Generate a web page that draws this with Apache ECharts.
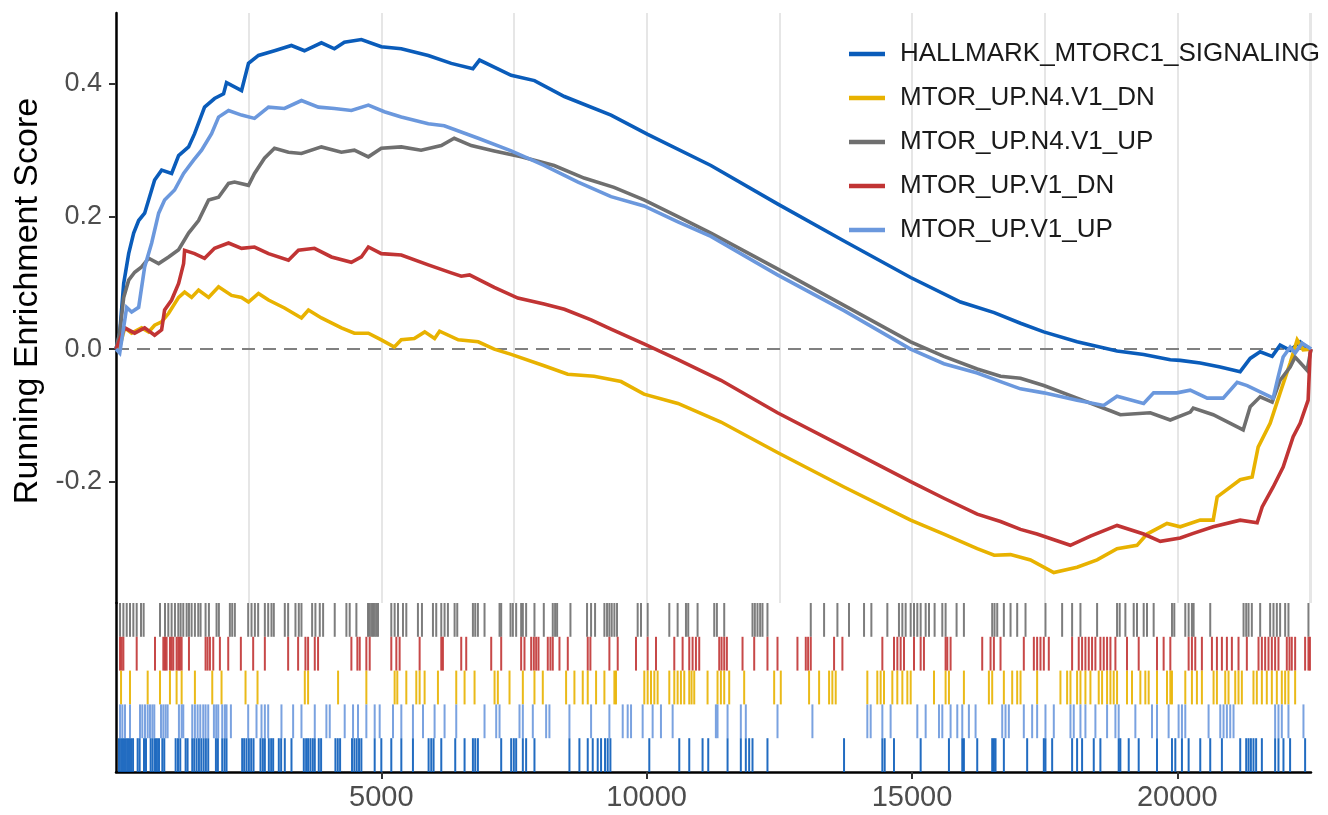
<!DOCTYPE html>
<html><head><meta charset="utf-8">
<script src="https://cdn.jsdelivr.net/npm/echarts@6/dist/echarts.min.js"></script>
<style>html,body{margin:0;padding:0;background:#fff}#c{width:1328px;height:815px}</style>
</head><body><div id="c"></div>
<script>
const FONT = '"Liberation Sans", Arial, Helvetica, sans-serif';
const nGenes = 22520;
const setNames = ['HALLMARK_MTORC1_SIGNALING', 'MTOR_UP.N4.V1_DN', 'MTOR_UP.N4.V1_UP', 'MTOR_UP.V1_DN', 'MTOR_UP.V1_UP'];
const setColors = ['#0a5cba', '#e8b200', '#6f6f6f', '#c13434', '#6b98dd'];
const yTicks = [-0.2, 0, 0.2, 0.4];
const xTicks = [5000, 10000, 15000, 20000];

// running enrichment score curves: [rank, score]
const esHallmark = [[0,0],[70,0.024],[145,0.099],[239,0.144],[333,0.175],[427,0.194],[540,0.205],[728,0.255],[860,0.27],[1048,0.265],[1180,0.292],[1368,0.305],[1481,0.325],[1669,0.365],[1857,0.378],[2027,0.385],[2083,0.402],[2366,0.39],[2497,0.431],[2685,0.443],[2987,0.45],[3306,0.458],[3551,0.45],[3871,0.462],[4116,0.453],[4304,0.463],[4624,0.467],[5000,0.456],[5376,0.453],[5885,0.443],[6318,0.431],[6726,0.423],[6851,0.436],[7447,0.413],[7886,0.405],[8450,0.381],[9329,0.353],[10020,0.324],[11211,0.277],[12466,0.219],[13720,0.163],[14975,0.108],[15916,0.071],[16549,0.055],[17045,0.039],[17484,0.026],[18112,0.011],[18865,-0.003],[19366,-0.008],[19868,-0.016],[20056,-0.017],[20432,-0.021],[20809,-0.027],[21185,-0.034],[21374,-0.014],[21562,-0.004],[21788,-0.011],[21938,0.006],[22127,-0.002],[22315,0.011],[22466,0.001],[22520,0]];
const esN4Dn = [[0,0],[70,0.003],[164,0.032],[295,0.024],[483,0.032],[615,0.026],[728,0.036],[860,0.041],[992,0.054],[1180,0.078],[1293,0.086],[1425,0.078],[1556,0.089],[1745,0.078],[1933,0.094],[2178,0.081],[2366,0.078],[2497,0.071],[2685,0.084],[2874,0.074],[3175,0.062],[3495,0.047],[3627,0.059],[3871,0.047],[4248,0.032],[4492,0.024],[4756,0.024],[5000,0.014],[5245,0.003],[5376,0.014],[5621,0.016],[5818,0.026],[6004,0.016],[6098,0.027],[6450,0.014],[6826,0.011],[7128,0.0],[7447,-0.008],[8068,-0.025],[8513,-0.038],[9010,-0.041],[9518,-0.049],[9950,-0.068],[10590,-0.082],[11400,-0.11],[12466,-0.156],[13720,-0.208],[14975,-0.258],[15602,-0.279],[16230,-0.301],[16549,-0.311],[16857,-0.31],[17233,-0.318],[17672,-0.337],[18112,-0.329],[18489,-0.318],[18865,-0.301],[19241,-0.296],[19430,-0.279],[19806,-0.263],[20056,-0.268],[20432,-0.258],[20677,-0.258],[20752,-0.223],[21185,-0.197],[21411,-0.193],[21524,-0.148],[21750,-0.112],[21938,-0.066],[22127,-0.021],[22259,0.014],[22372,-0.001],[22520,0]];
const esN4Up = [[0,0],[70,0.024],[145,0.078],[239,0.104],[352,0.116],[483,0.124],[615,0.137],[804,0.129],[992,0.139],[1180,0.15],[1368,0.175],[1556,0.194],[1745,0.225],[1933,0.229],[2121,0.25],[2234,0.252],[2497,0.247],[2610,0.265],[2798,0.288],[2987,0.303],[3250,0.297],[3495,0.295],[3871,0.305],[4248,0.297],[4492,0.30],[4756,0.29],[5000,0.303],[5376,0.305],[5750,0.30],[6130,0.307],[6374,0.318],[6695,0.307],[7128,0.299],[7636,0.29],[8257,0.277],[8821,0.258],[9385,0.244],[9950,0.225],[10590,0.2],[11211,0.175],[12466,0.121],[13720,0.066],[14975,0.011],[15602,-0.011],[16230,-0.03],[16669,-0.041],[17045,-0.044],[17484,-0.055],[18112,-0.074],[18739,-0.093],[18927,-0.099],[19491,-0.096],[19868,-0.107],[20245,-0.095],[20301,-0.089],[20677,-0.099],[21242,-0.122],[21374,-0.087],[21562,-0.072],[21788,-0.08],[21938,-0.047],[22127,-0.027],[22221,-0.012],[22447,-0.032],[22520,0]];
const esV1Dn = [[0,0],[70,0.014],[164,0.032],[352,0.024],[540,0.032],[728,0.021],[860,0.029],[916,0.059],[1048,0.074],[1180,0.099],[1274,0.129],[1293,0.149],[1481,0.144],[1669,0.137],[1857,0.152],[2121,0.16],[2366,0.152],[2610,0.154],[2874,0.144],[3250,0.134],[3438,0.149],[3740,0.152],[4060,0.139],[4436,0.131],[4624,0.139],[4756,0.154],[5000,0.144],[5376,0.142],[5885,0.127],[6318,0.115],[6506,0.11],[6663,0.112],[7128,0.093],[7573,0.077],[8068,0.068],[8450,0.06],[8953,0.044],[9329,0.03],[9950,0.008],[10590,-0.016],[11400,-0.047],[12466,-0.096],[13720,-0.148],[14975,-0.2],[15602,-0.225],[16230,-0.249],[16669,-0.26],[17045,-0.272],[17357,-0.279],[17984,-0.296],[18363,-0.282],[18865,-0.266],[19366,-0.279],[19680,-0.29],[20056,-0.285],[20301,-0.278],[20677,-0.268],[21185,-0.258],[21505,-0.262],[21600,-0.238],[21807,-0.208],[21995,-0.178],[22184,-0.132],[22315,-0.112],[22466,-0.077],[22503,-0.006],[22520,0]];
const esV1Up = [[0,0],[70,-0.006],[145,0.033],[201,0.063],[295,0.056],[427,0.063],[540,0.124],[672,0.16],[804,0.205],[916,0.225],[1104,0.24],[1274,0.265],[1462,0.285],[1613,0.30],[1801,0.325],[1933,0.35],[2121,0.36],[2366,0.353],[2610,0.348],[2874,0.365],[3175,0.363],[3495,0.375],[3815,0.365],[4116,0.363],[4436,0.36],[4756,0.368],[5057,0.358],[5376,0.35],[5885,0.34],[6186,0.337],[6826,0.318],[7447,0.299],[8068,0.277],[8708,0.252],[9329,0.230],[9950,0.216],[10590,0.192],[11211,0.170],[12466,0.112],[13720,0.058],[14975,0.0],[15602,-0.022],[16230,-0.036],[16669,-0.049],[17045,-0.06],[17484,-0.066],[18112,-0.077],[18613,-0.085],[18865,-0.071],[19366,-0.082],[19554,-0.066],[19994,-0.066],[20244,-0.062],[20564,-0.074],[20865,-0.074],[21129,-0.05],[21317,-0.055],[21807,-0.074],[21901,-0.042],[21995,-0.012],[22127,0.003],[22221,-0.006],[22353,0.009],[22466,0.003],[22520,0]];

// gene-set hit positions (ranks) for the rug panel
const hitsN4Up = [76,139,202,264,327,390,471,521,829,923,986,1048,1111,1174,1218,1268,1331,1375,1425,1487,1550,1594,1688,1751,1895,1939,2146,2190,2240,2491,2554,2617,2679,2805,2868,2930,2974,3181,3244,3382,3445,3495,3696,3758,3840,3903,4122,4342,4404,4530,4749,4780,4812,4843,4875,4906,4938,5188,5251,5314,5408,5471,5690,5766,5973,6035,6130,6192,6255,6381,6431,6726,6770,6820,6945,7228,7259,7435,7479,7541,7635,7667,7729,7886,8062,8231,8275,8313,8564,8877,8953,9028,9204,9254,9298,9342,9392,9442,9831,9894,10019,10427,10584,10741,10784,10960,11274,11324,11462,11995,12039,12089,12139,12183,12277,13093,13344,13595,13814,14097,14235,14536,14755,14819,14881,14976,15038,15101,15164,15258,15321,15427,15572,15634,15841,15979,16512,16556,16607,16732,16858,16983,17140,17516,17830,18018,18175,18489,18865,18915,19022,19179,19241,19367,19429,19555,19900,19944,20151,20214,20276,20308,20621,21249,21299,21343,21405,21562,21750,21813,21876,21938,22033,22095,22472];
const hitsV1Dn = [76,107,139,390,735,892,923,954,1017,1048,1080,1142,1174,1205,1237,1375,1688,1726,1770,1833,1958,2115,2353,2585,2805,3244,3432,3570,3620,3746,3808,4436,4549,4593,4718,4781,5188,5283,5345,5722,6130,6161,6506,6600,7071,7259,7635,7698,7824,7874,7918,7962,8137,8187,8231,8357,8514,8890,8940,9298,9455,9800,10019,10176,10521,10678,10803,10866,10929,10991,11368,11412,11462,11512,11807,12027,12277,12466,12842,12999,13043,13093,13532,13689,14442,14662,14725,14787,14850,15038,15164,15226,15634,15666,15728,16324,16481,16544,16669,17108,17297,17359,17422,17485,17579,18018,18143,18206,18269,18332,18394,18457,18551,18614,18677,18740,18834,19053,19273,19618,19743,19869,20214,20276,20339,20464,20653,20747,20841,20935,21029,21154,21311,21531,21594,21656,21719,21782,21844,21907,22064,22114,22158,22221,22409,22472,22500];
const hitsN4Dn = [95,264,597,829,1017,1142,1237,1487,1814,1989,2441,2667,3558,3620,4185,4718,5251,5301,5471,5659,5722,5816,6067,6412,6569,6757,7134,7196,7416,7667,7886,8043,8482,8639,8796,8890,9047,9204,9392,9423,9956,10019,10082,10145,10207,10427,10521,10584,10646,10709,10803,10847,10897,11148,11336,11399,11462,11556,11838,12403,12528,13061,13250,13438,13500,13563,14159,14347,14410,14473,14630,14724,14819,14913,14976,15415,15634,15697,15979,16450,16512,16732,16889,16983,17046,17359,17798,17924,17987,18112,18175,18269,18363,18520,18583,18677,18740,18802,18865,19053,19147,19304,19398,19461,19618,19806,19869,19900,20151,20276,20370,20464,20684,20747,20904,20966,21092,21154,21217,21436,21499,21594,21687,21782,21876,21970,22033,22095,22221];
const hitsV1Up = [76,120,170,264,452,496,546,597,641,685,722,848,892,935,973,1186,1237,1268,1437,1487,1538,1588,1644,1688,1738,1845,1889,1927,2002,2052,2083,2165,2491,2648,2742,2805,2868,3118,3338,3495,3746,3965,4028,4310,4467,4561,4718,4875,4969,5220,5377,5596,5785,6004,6192,6412,6945,7165,7228,7604,7667,7855,8106,8168,8545,8953,9298,9549,9643,9706,9925,10113,10270,10490,11305,11336,11525,11775,11869,12466,13124,14159,14222,14442,14598,15101,15258,15509,15572,15728,15854,15948,16073,16199,16701,16763,16826,17108,17265,17359,17516,17673,17987,18049,18175,18269,18457,18677,18834,18896,19210,19524,19618,19837,20025,20088,20151,20590,20810,20872,20935,20998,21060,21844,21907,21970,22095,22378];
const hitsHallmark = [57,95,132,170,208,245,283,321,408,446,528,565,653,691,735,772,810,873,910,1124,1168,1211,1312,1349,1437,1475,1519,1563,1607,1651,1694,1738,1883,1920,2002,2046,2083,2378,2416,2460,2504,2548,2592,2723,2767,2805,2880,2924,2962,3068,3112,3181,3307,3539,3583,3620,3664,3708,3746,3821,3865,4135,4179,4223,4448,4492,4536,4580,4624,4875,5000,5188,5377,5596,5891,5941,5985,6130,6393,6569,6726,6770,6820,7259,7447,7497,7541,7667,7729,7886,8545,8733,8890,8984,9078,9141,9216,9266,9317,10050,10615,10803,11054,11161,11525,11775,11869,11932,11995,12277,13720,14442,14486,14661,15164,15697,15948,15979,16230,16512,16544,16575,16732,17171,17485,17516,17642,18018,18112,18206,18426,18551,18896,18927,19085,19273,19618,19900,19963,20088,20214,20433,20621,20841,21186,21299,21343,21387,21436,21486,21594,21844,21907,22001,22126,22409];

const curves = [esHallmark, esN4Dn, esN4Up, esV1Dn, esV1Up];
// rug rows, top to bottom: N4.V1_UP, V1_DN, N4.V1_DN, V1_UP, HALLMARK
const rugRows = [
  {hits: hitsN4Up, set: 2, row: 4.5},
  {hits: hitsV1Dn, set: 3, row: 3.5},
  {hits: hitsN4Dn, set: 1, row: 2.5},
  {hits: hitsV1Up, set: 4, row: 1.5},
  {hits: hitsHallmark, set: 0, row: 0.5}
];

const chart = echarts.init(document.getElementById('c'), null, {renderer: 'canvas'});
const series = [];
curves.forEach((d, i) => {
  const s = {
    name: setNames[i], type: 'line', xAxisIndex: 0, yAxisIndex: 0,
    data: d, symbol: 'none', showSymbol: false, z: 3,
    itemStyle: {color: setColors[i]},
    lineStyle: {color: setColors[i], width: 3.6, join: 'miter'}
  };
  if (i === 0) {
    s.markLine = {
      silent: true, symbol: 'none', label: {show: false}, z: 2,
      lineStyle: {color: '#808080', type: [13, 8], width: 2},
      data: [{yAxis: 0}]
    };
  }
  series.push(s);
});
rugRows.forEach(r => {
  series.push({
    name: 'rug_' + setNames[r.set], type: 'scatter', xAxisIndex: 1, yAxisIndex: 1,
    symbol: 'rect', symbolSize: [2, 33.8], silent: true,
    itemStyle: {color: setColors[r.set], opacity: 0.9},
    data: r.hits.map(h => [h, r.row])
  });
});

chart.setOption({
  animation: false,
  backgroundColor: '#ffffff',
  grid: [
    {left: 116, right: 17, top: 13, height: 590},
    {left: 116, right: 17, top: 603, height: 169}
  ],
  legend: {
    data: setNames, orient: 'vertical', left: 844, top: 34,
    icon: 'rect', itemWidth: 36, itemHeight: 4.5, itemGap: 14, selectedMode: false,
    textStyle: {fontSize: 26, color: '#1a1a1a', fontFamily: FONT, padding: [0, 0, 0, 10], lineHeight: 30}
  },
  xAxis: [
    {gridIndex: 0, type: 'value', min: 0, max: nGenes, interval: 2500,
     axisLine: {show: false}, axisTick: {show: false}, axisLabel: {show: false},
     splitLine: {show: true, lineStyle: {color: '#e6e6e6', width: 2}}},
    {gridIndex: 1, type: 'value', min: 0, max: nGenes,
     axisLine: {show: true, onZero: false, lineStyle: {color: '#000', width: 2.5}},
     axisTick: {show: true, customValues: xTicks, length: 7, lineStyle: {color: '#333', width: 2}},
     axisLabel: {show: true, customValues: xTicks, formatter: v => String(v), fontSize: 29, color: '#4d4d4d', margin: 11, fontFamily: FONT},
     splitLine: {show: false}}
  ],
  yAxis: [
    {gridIndex: 0, type: 'value', min: -0.383, max: 0.507,
     axisLine: {show: true, onZero: false, lineStyle: {color: '#000', width: 2.5}},
     axisTick: {show: true, customValues: yTicks, length: 7, lineStyle: {color: '#333', width: 2}},
     axisLabel: {show: true, customValues: yTicks, formatter: v => v.toFixed(1), fontSize: 27, color: '#4d4d4d', margin: 14, fontFamily: FONT},
     splitLine: {show: false}},
    {gridIndex: 1, type: 'value', min: 0, max: 5,
     axisLine: {show: true, onZero: false, lineStyle: {color: '#000', width: 2.5}},
     axisTick: {show: false}, axisLabel: {show: false}, splitLine: {show: false}}
  ],
  graphic: [{
    type: 'text', x: 28, y: 301, rotation: Math.PI / 2, silent: true,
    style: {text: 'Running Enrichment Score', font: '34px ' + FONT, fill: '#000', textAlign: 'center', textVerticalAlign: 'middle'}
  }],
  series: series
});
</script></body></html>
